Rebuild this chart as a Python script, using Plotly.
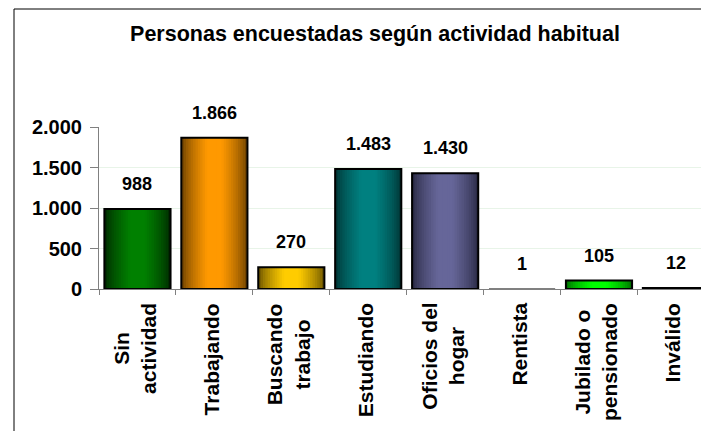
import plotly.graph_objects as go

categories = ["Sin<br>actividad", "Trabajando", "Buscando<br>trabajo", "Estudiando",
              "Oficios del<br>hogar", "Rentista", "Jubilado o<br>pensionado", "Inválido"]
values = [988, 1866, 270, 1483, 1430, 1, 105, 12]
y_tickvals = [0, 500, 1000, 1500, 2000]

title_text = "Personas encuestadas según actividad habitual"

edge_colors = ["#002a00", "#6e4200", "#6b5400", "#003636", "#2a2a45", "#808080", "#007000", "#000000"]
center_colors = ["#008000", "#ff9900", "#ffcc00", "#008080", "#666699", "#808080", "#00ff00", "#333333"]
outline_widths = [2, 2, 2, 2, 2, 0, 2, 2]

FONT = "Liberation Sans, Arial, sans-serif"

# page body has an 8px default margin: figure coordinates = screen - 8
W, H = 701, 423
L, T, B = 91, 119, 142
PW = W - L
PH = H - T - B


def hex2rgb(h):
    h = h.lstrip("#")
    return tuple(int(h[i:i + 2], 16) for i in (0, 2, 4))


def mix(c1, c2, t):
    a, b = hex2rgb(c1), hex2rgb(c2)
    return "rgb(%d,%d,%d)" % tuple(round(a[i] + (b[i] - a[i]) * t) for i in range(3))


def fmt(v):
    return f"{v:,}".replace(",", ".")


fig = go.Figure()

BAR_W = 0.86
LAYERS = 14
for k in range(LAYERS):
    frac = k / LAYERS
    w = BAR_W * (1 - frac)
    t = min(1.0, (frac / 0.75)) ** 0.7
    fig.add_trace(go.Bar(
        x=categories, y=values, width=w,
        marker=dict(color=[mix(e, c, t) for e, c in zip(edge_colors, center_colors)],
                    line=dict(width=0)),
        showlegend=False, hoverinfo="skip",
    ))

# outline
fig.add_trace(go.Bar(
    x=categories, y=values, width=BAR_W,
    marker=dict(color="rgba(0,0,0,0)", line=dict(color="#000000", width=outline_widths)),
    showlegend=False,
))

# value labels
for c, v in zip(categories, values):
    fig.add_annotation(x=c, y=v, text=fmt(v), showarrow=False, yshift=25,
                       yanchor="middle", xanchor="center",
                       font=dict(family=FONT, size=18, color="#000000", weight="bold"))

# category labels (rotated, lines centred on each other)
for c in categories:
    fig.add_annotation(x=c, y=0, xref="x", yref="paper", text=c, showarrow=False,
                       textangle=-90, align="center", xanchor="center", yanchor="top",
                       xshift=-3, yshift=-13, borderpad=0,
                       font=dict(family=FONT, size=21, color="#000000", weight="bold"))

# outer border (left edge at x=6, top at y=1 in figure coords)
fig.add_shape(type="rect", xref="paper", yref="paper",
              x0=(6 - L) / PW, x1=1.3, y0=-3, y1=(T + PH - 1) / PH,
              line=dict(color="#000000", width=1), fillcolor="rgba(0,0,0,0)", layer="below")

fig.update_layout(
    width=W, height=H,
    margin=dict(l=L, r=0, t=T, b=B, autoexpand=False),
    paper_bgcolor="white", plot_bgcolor="white",
    barmode="overlay",
    separators=",.",
    title=dict(text=title_text, x=367 / W, xanchor="center", xref="container",
               y=1 - 25 / H, yanchor="middle", yref="container",
               font=dict(family=FONT, size=21.5, color="#000000", weight="bold")),
    xaxis=dict(type="category", range=[-0.5, 7.43],
               showline=True, linecolor="#808080", linewidth=1,
               ticks="outside", ticklen=5, tickcolor="#808080", tickson="boundaries",
               showticklabels=False, showgrid=False),
    yaxis=dict(range=[0, 2000], tickvals=y_tickvals, tickformat=",d",
               showline=True, linecolor="#808080", linewidth=1,
               ticks="outside", ticklen=8, tickcolor="#808080",
               gridcolor="#e8f4e8", zeroline=False, ticklabelstandoff=4,
               tickfont=dict(family=FONT, size=20, color="#000000", weight="bold")),
)

fig.write_html("out.html")
